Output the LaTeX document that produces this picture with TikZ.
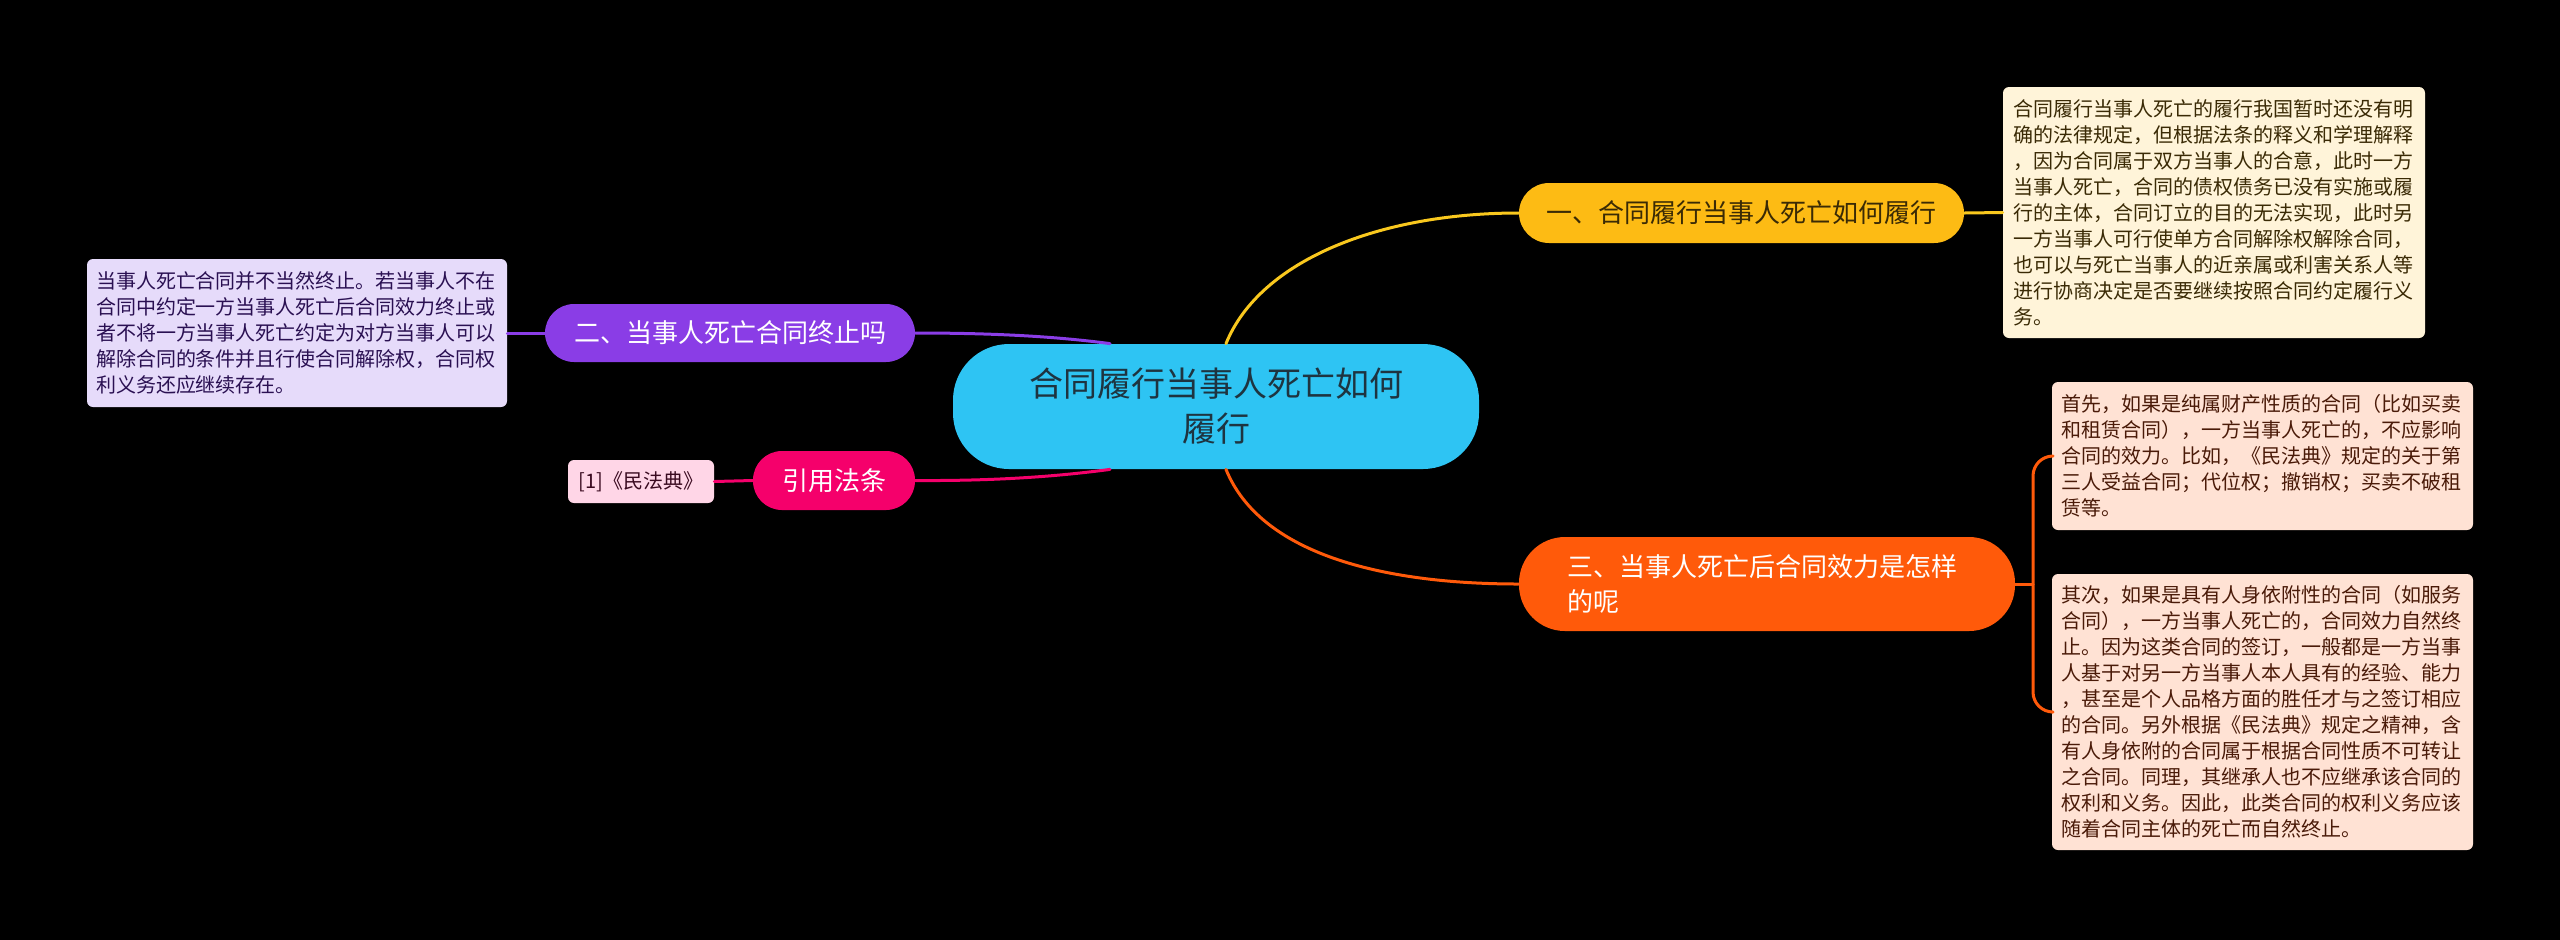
\documentclass[tikz,border=0pt]{standalone}
\usepackage{fontspec}
\newfontfamily\cjk{Noto Sans CJK SC}

\definecolor{rootblue}{HTML}{2EC4F3}
\definecolor{roottext}{HTML}{1E3440}
\definecolor{gold}{HTML}{FDBB14}
\definecolor{goldline}{HTML}{F9C81E}
\definecolor{goldleaf}{HTML}{FFF4D9}
\definecolor{goldtext}{HTML}{3A2A05}
\definecolor{tangerine}{HTML}{FF5A0A}
\definecolor{peachleaf}{HTML}{FFE2D4}
\definecolor{peachtext}{HTML}{4A1A08}
\definecolor{violet}{HTML}{8A3DE6}
\definecolor{lilacleaf}{HTML}{E6DBFA}
\definecolor{lilactext}{HTML}{2A1052}
\definecolor{rose}{HTML}{F5006B}
\definecolor{roseleaf}{HTML}{FFD6E7}
\definecolor{rosetext}{HTML}{3A0A20}

\begin{document}
\begin{tikzpicture}[x=0.5pt, y=-0.5pt, line cap=round, line join=round,
    pill/.style={rectangle, inner sep=0pt, align=center},
    branch/.style={pill, font=\cjk\fontsize{13pt}{17.5pt}\selectfont},
    leafbox/.style={rectangle, rounded corners=3pt, inner sep=0pt, align=left,
        font=\cjk\fontsize{10pt}{13pt}\selectfont},
    link/.style={line width=1.5pt}]

    % background
    \useasboundingbox (0,0) rectangle (2560,939);
    \fill[black] (-10,-10) rectangle (2570,949);

    % centre
    \node[pill, fill=rootblue, text=roottext, rounded corners=28pt,
        minimum width=263pt, minimum height=62.5pt,
        font=\cjk\fontsize{17pt}{22.5pt}\selectfont] (root) at (1216,406.5)
        {合同履行当事人死亡如何\\履行};

    % branches
    \node[branch, fill=gold, text=goldtext, rounded corners=15pt,
        minimum width=222.5pt, minimum height=30pt] (b1) at (1741.5,213)
        {一、合同履行当事人死亡如何履行};
    \node[branch, fill=tangerine, text=white, rounded corners=23pt, align=left,
        text width=200pt, minimum width=248pt, minimum height=47pt] (b3) at (1767,584)
        {三、当事人死亡后合同效力是怎样\\的呢};
    \node[branch, fill=violet, text=white, rounded corners=14.5pt,
        minimum width=185pt, minimum height=29pt] (b2) at (730,333)
        {二、当事人死亡合同终止吗};
    \node[branch, fill=rose, text=white, rounded corners=14.5pt,
        minimum width=81pt, minimum height=29.5pt] (b4) at (834,480.5)
        {引用法条};

    % leaves
    \node[leafbox, fill=goldleaf, text=goldtext, text width=201pt,
        minimum width=211pt, minimum height=125.5pt] (l1) at (2214,212.5)
        {合同履行当事人死亡的履行我国暂时还没有明\\
         确的法律规定，但根据法条的释义和学理解释\\
         ，因为合同属于双方当事人的合意，此时一方\\
         当事人死亡，合同的债权债务已没有实施或履\\
         行的主体，合同订立的目的无法实现，此时另\\
         一方当事人可行使单方合同解除权解除合同，\\
         也可以与死亡当事人的近亲属或利害关系人等\\
         进行协商决定是否要继续按照合同约定履行义\\
         务。};
    \node[leafbox, fill=peachleaf, text=peachtext, text width=201pt,
        minimum width=210.5pt, minimum height=74pt] (l3a) at (2262.5,456)
        {首先，如果是纯属财产性质的合同（比如买卖\\
         和租赁合同），一方当事人死亡的，不应影响\\
         合同的效力。比如，《民法典》规定的关于第\\
         三人受益合同；代位权；撤销权；买卖不破租\\
         赁等。};
    \node[leafbox, fill=peachleaf, text=peachtext, text width=201pt,
        minimum width=210.5pt, minimum height=138pt] (l3b) at (2262.5,712)
        {其次，如果是具有人身依附性的合同（如服务\\
         合同），一方当事人死亡的，合同效力自然终\\
         止。因为这类合同的签订，一般都是一方当事\\
         人基于对另一方当事人本人具有的经验、能力\\
         ，甚至是个人品格方面的胜任才与之签订相应\\
         的合同。另外根据《民法典》规定之精神，含\\
         有人身依附的合同属于根据合同性质不可转让\\
         之合同。同理，其继承人也不应继承该合同的\\
         权利和义务。因此，此类合同的权利义务应该\\
         随着合同主体的死亡而自然终止。};
    \node[leafbox, fill=lilacleaf, text=lilactext, text width=201pt,
        minimum width=210pt, minimum height=74pt] (l2) at (297,333)
        {当事人死亡合同并不当然终止。若当事人不在\\
         合同中约定一方当事人死亡后合同效力终止或\\
         者不将一方当事人死亡约定为对方当事人可以\\
         解除合同的条件并且行使合同解除权，合同权\\
         利义务还应继续存在。};
    \node[leafbox, fill=roseleaf, text=rosetext, align=center,
        minimum width=73pt, minimum height=21.5pt] (l4) at (641,481.5)
        {[1]《民法典》};

    % connectors
    \coordinate (fork3) at (2033,584);
    \draw[link, goldline] ([xshift=5pt]root.north) .. controls (1260,260) and (1380,213) .. (b1.west);
    \draw[link, goldline] (b1.east) -- (l1.west);
    \draw[link, tangerine] ([xshift=5pt]root.south) .. controls (1260,553) and (1380,584) .. (b3.west);
    \draw[link, tangerine] (b3.east) -- (fork3);
    \draw[link, tangerine, rounded corners=10pt] (l3a.west) -| (fork3) |- (l3b.west);
    \draw[link, violet] (b2.east) .. controls (1000,333) and (1060,337) .. ([xshift=-53pt]root.north);
    \draw[link, violet] (b2.west) -- (l2.east);
    \draw[link, rose] (b4.east) .. controls (1000,481) and (1060,476) .. ([xshift=-53pt]root.south);
    \draw[link, rose] (b4.west) -- (l4.east);

\end{tikzpicture}
\end{document}
